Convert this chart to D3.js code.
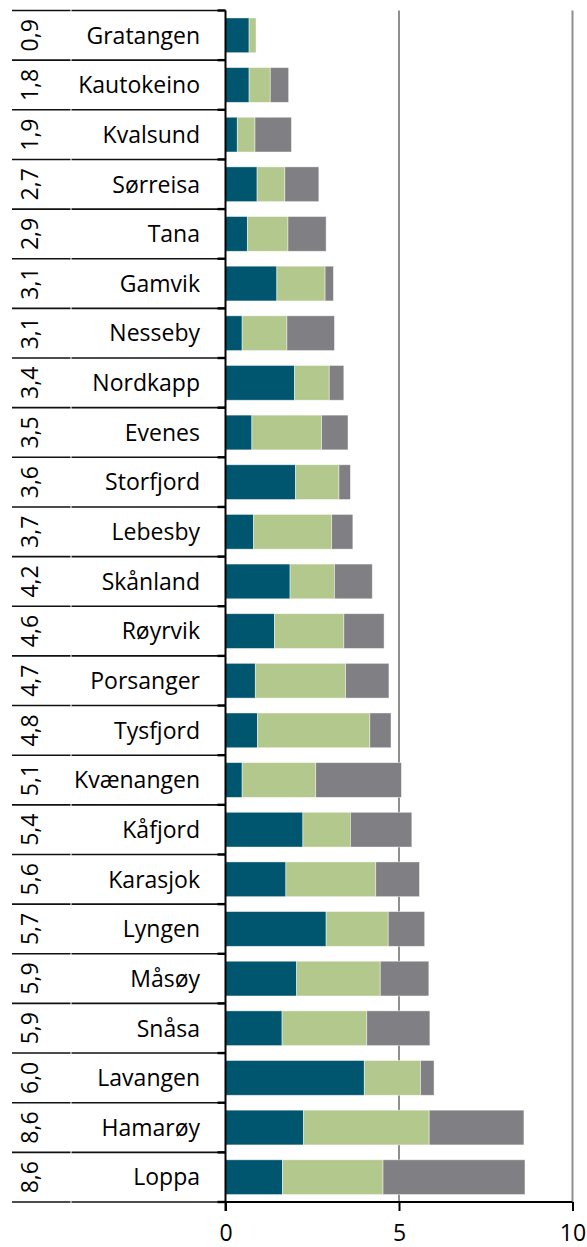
<!DOCTYPE html>
<html>
<head>
<meta charset="utf-8">
<script src="https://cdn.jsdelivr.net/npm/d3@7"></script>
<style>
  html, body { margin: 0; padding: 0; background: #fff; }
  svg { display: block; }
  text { font-family: "Open Sans", "Noto Sans", sans-serif; fill: #000; }
</style>
</head>
<body>
<svg id="chart" width="587" height="1247"></svg>
<script>
const municipalities = ["Gratangen","Kautokeino","Kvalsund","Sørreisa","Tana","Gamvik","Nesseby","Nordkapp","Evenes","Storfjord","Lebesby","Skånland","Røyrvik","Porsanger","Tysfjord","Kvænangen","Kåfjord","Karasjok","Lyngen","Måsøy","Snåsa","Lavangen","Hamarøy","Loppa"];
const totalLabels = ["0,9","1,8","1,9","2,7","2,9","3,1","3,1","3,4","3,5","3,6","3,7","4,2","4,6","4,7","4,8","5,1","5,4","5,6","5,7","5,9","5,9","6,0","8,6","8,6"];
const seriesA = [0.68,0.68,0.34,0.91,0.63,1.48,0.48,1.99,0.76,2.02,0.81,1.86,1.41,0.86,0.92,0.48,2.23,1.74,2.90,2.05,1.63,4.00,2.25,1.64];
const seriesB = [0.20,0.61,0.51,0.80,1.17,1.39,1.29,1.00,2.01,1.25,2.25,1.28,2.00,2.60,3.24,2.12,1.37,2.59,1.79,2.41,2.44,1.62,3.62,2.90];
const seriesC = [0.00,0.53,1.05,0.98,1.10,0.24,1.37,0.42,0.76,0.33,0.61,1.09,1.16,1.25,0.61,2.47,1.77,1.26,1.05,1.40,1.82,0.39,2.73,4.09];
const xTicks = [0, 5, 10];
const seriesKeys = ["a","b","c"];
const colors = ["#00566F", "#B3C88C", "#807F84"];

(function () {
const rows = municipalities.map((m, i) => ({name: m, total: totalLabels[i], a: seriesA[i], b: seriesB[i], c: seriesC[i]}));

const svg = d3.select("#chart");
const topY = 10.5, bottomY = 1202, leftX = 12, axisX = 225.5, sepX = 71;

const x = d3.scaleLinear().domain([0, 10]).range([axisX, 572.5]);
const y = d3.scaleBand().domain(municipalities).range([topY, bottomY]).paddingInner(0.3).paddingOuter(0.15);
const step = y.step();

// gridlines
svg.append("g").selectAll("line").data(xTicks.filter(d => d > 0)).join("line")
  .attr("x1", d => x(d)).attr("x2", d => x(d))
  .attr("y1", topY).attr("y2", bottomY)
  .attr("stroke", "#8f8f8f").attr("stroke-width", 2);

// stacked bars
const stack = d3.stack().keys(seriesKeys)(rows);
svg.append("g").selectAll("g").data(stack).join("g")
  .attr("fill", (d, i) => colors[i])
  .selectAll("rect").data(d => d).join("rect")
  .attr("x", d => x(d[0]))
  .attr("width", d => Math.max(0, x(d[1]) - x(d[0])))
  .attr("y", d => y(d.data.name))
  .attr("height", y.bandwidth())
  .attr("stroke", "rgba(255,255,255,0.55)")
  .attr("stroke-width", 0.8);

// table row lines
const boundaries = d3.range(municipalities.length + 1).map(i => topY + i * step);
const tbl = svg.append("g").attr("stroke", "#111").attr("stroke-width", 1.6);
tbl.selectAll("line.l1").data(boundaries).join("line").attr("class", "l1")
  .attr("x1", leftX).attr("x2", sepX - 0.5).attr("y1", d => d).attr("y2", d => d);
tbl.selectAll("line.l2").data(boundaries).join("line").attr("class", "l2")
  .attr("x1", sepX + 0.5).attr("x2", axisX).attr("y1", d => d).attr("y2", d => d);
// category-axis ticks (thicker, near axis)
svg.append("g").selectAll("line").data(boundaries).join("line")
  .attr("x1", axisX - 8).attr("x2", axisX).attr("y1", d => d).attr("y2", d => d)
  .attr("stroke", "#000").attr("stroke-width", 2.4);

// vertical axis line
svg.append("line").attr("x1", axisX).attr("x2", axisX).attr("y1", topY).attr("y2", bottomY + 9)
  .attr("stroke", "#000").attr("stroke-width", 2);

// bottom axis
const xAxis = svg.append("g").attr("transform", `translate(0,${bottomY})`)
  .call(d3.axisBottom(x).tickValues(xTicks).tickSize(9).tickPadding(14).tickFormat(d3.format("d")));
xAxis.select(".domain").attr("stroke", "#000").attr("stroke-width", 2).attr("d", `M${axisX},0H${x(10)}`);
xAxis.selectAll(".tick line").attr("stroke", "#000").attr("stroke-width", 2);
xAxis.selectAll(".tick text").attr("font-size", 23).attr("font-family", "Open Sans").attr("fill", "#000");

// names
svg.append("g").selectAll("text").data(rows).join("text")
  .attr("x", 200)
  .attr("y", d => y(d.name) + y.bandwidth() / 2)
  .attr("dy", "0.36em")
  .attr("text-anchor", "end")
  .attr("font-size", 23)
  .text(d => d.name);

// rotated totals
svg.append("g").selectAll("text").data(rows).join("text")
  .attr("transform", d => `translate(38,${y(d.name) + y.bandwidth() / 2}) rotate(-90)`)
  .attr("text-anchor", "middle")
  .attr("font-size", 23)
  .text(d => d.total);
})();
</script>
</body>
</html>
